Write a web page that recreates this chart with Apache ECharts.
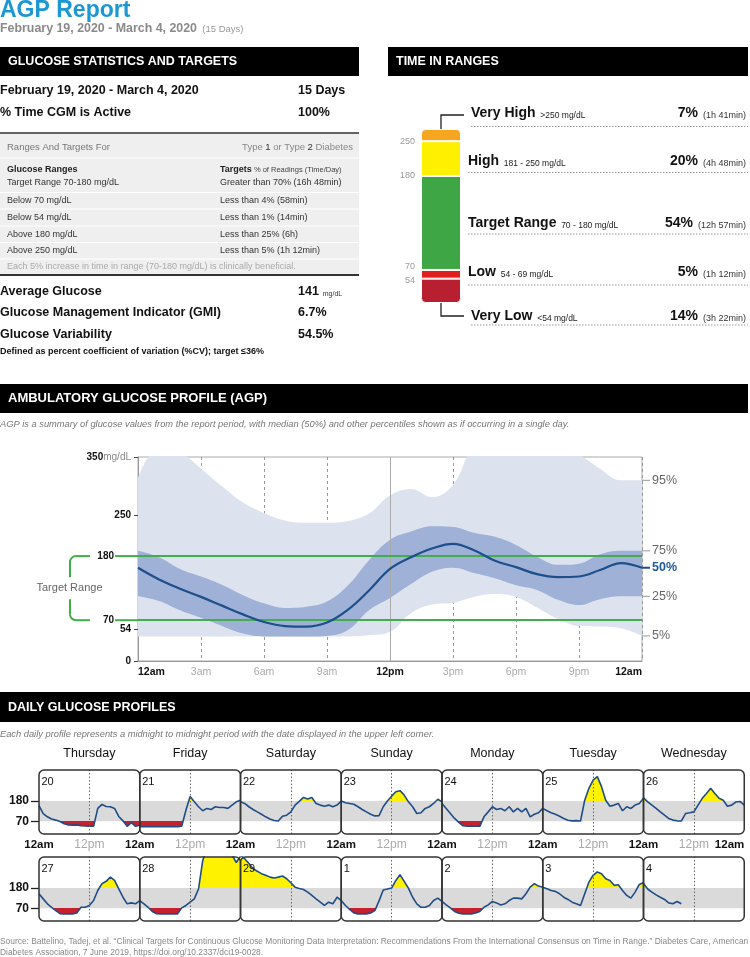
<!DOCTYPE html>
<html><head><meta charset="utf-8">
<script src="https://cdn.jsdelivr.net/npm/echarts@6/dist/echarts.min.js"></script>
<style>html,body{margin:0;padding:0;background:#fff}#c{width:750px;height:957px}</style>
</head><body><div id="c"></div>
<script>
const FONT = '"Liberation Sans", Arial, Helvetica, sans-serif';

// ---------- AGP percentiles (mg/dL) at each hour ----------
const hours = [0,1,2,3,4,5,6,7,8,9,10,11,12,13,14,15,16,17,18,19,20,21,22,23,24];
const p5  = [42,42,42,42,42,42,42,42,42,42,42,44,50,82,97,100,110,115,110,92,72,60,59,56,43];
const p25 = [111,103,87,74,60,47,42,42,42,43,53,87,108,132,153,160,151,142,130,122,105,96,106,111,111];
const p50 = [160,140,124,110,95,80,67,60,59,66,88,121,158,178,193,201,190,172,161,149,144,145,156,168,160];
const p75 = [189,178,158,145,131,113,99,91,93,102,130,173,208,222,231,230,220,213,199,179,165,167,183,189,189];
const p95 = [314,365,358,330,300,272,254,241,237,237,240,253,284,295,281,302,370,385,385,385,378,355,330,310,310];
const agpTickLabels = ['12am','3am','6am','9am','12pm','3pm','6pm','9pm','12am'];
const agpYTicks = [0,54,70,180,250,350];
const pctLabels = ['95%','75%','50%','25%','5%'];

// ---------- Time in ranges ----------
const tirNames  = ['Very Low','Low','Target Range','High','Very High'];
const tirRanges = ['<54 mg/dL','54 - 69 mg/dL','70 - 180 mg/dL','181 - 250 mg/dL','>250 mg/dL'];
const tirPct    = [14,5,54,20,7];
const tirTime   = ['(3h 22min)','(1h 12min)','(12h 57min)','(4h 48min)','(1h 41min)'];
const tirBoundaryLabels = ['54','70','180','250'];
const tirColors = ['#b81f30','#e0201f','#3fa645','#fff000','#f6a71f'];

// ---------- Daily glucose profiles (mg/dL, hourly) ----------
const dayNames = ['Thursday','Friday','Saturday','Sunday','Monday','Tuesday','Wednesday'];
const dayDates = ['20','21','22','23','24','25','26','27','28','29','1','2','3','4'];
const d20 = [155,112,94,82,76,68,56,50,48,50,45,44,43,42,140,162,150,149,140,96,72,42,62,42,48];
const d21 = [40,40,40,40,40,40,40,40,40,40,42,130,205,176,149,127,140,134,149,145,145,140,158,176,185];
const d22 = [176,167,149,134,121,108,94,82,74,71,97,103,121,158,178,200,192,200,167,158,152,158,149,158,180];
const d23 = [180,171,167,163,149,134,121,108,99,100,149,180,207,231,237,213,176,149,112,116,140,149,167,190,176];
const d24 = [167,140,112,85,64,45,42,42,42,42,94,121,149,134,140,127,149,121,140,121,140,94,108,116,140];
const d25 = [140,127,116,108,97,85,75,72,73,71,185,250,295,314,259,185,152,158,167,127,149,140,158,167,195];
const d26 = [198,176,158,140,121,103,85,76,72,71,112,116,121,158,195,222,250,222,195,185,152,158,175,178,158];
const d27 = [149,121,94,75,57,40,39,39,39,44,75,75,85,112,167,204,217,240,222,176,130,94,99,94,112];
const d28 = [112,94,75,52,40,39,39,39,39,39,72,85,103,121,175,330,400,400,400,400,400,400,360,320,355];
const d29 = [360,341,314,286,272,259,250,240,235,240,246,231,209,185,178,172,158,140,121,103,85,103,94,130,112];
const d01 = [112,85,63,44,39,39,39,44,57,110,170,175,180,222,253,217,180,130,94,75,75,85,112,125,107];
const d02 = [107,88,72,52,42,39,39,39,44,52,75,88,107,99,88,94,112,125,125,121,149,185,204,191,185];
const d03 = [185,176,167,162,149,130,118,103,94,85,149,213,250,268,259,231,222,195,198,167,140,125,158,200,210];
const d04 = [205,175,158,143,130,118,99,94,107,94,null,null,null,null,null,null,null,null,null,null,null,null,null,null,null];
const dayValues = [d20,d21,d22,d23,d24,d25,d26,d27,d28,d29,d01,d02,d03,d04];

// ---------- helpers ----------
const pairs = arr => arr.map((v,i) => [hours[i], v]);
const diff = (a,b) => a.map((v,i) => v - b[i]);
const F = (size, weight, style) => `${style||'normal'} ${weight||'normal'} ${size}px ${FONT}`;
function T(x, y, text, font, fill, align) {
  return {type:'text', x, y, silent:true, z:50,
    style:{text, font, fill: fill||'#111', align: align||'left', verticalAlign:'middle'}};
}
function R(x, y, text, rich, align) {
  return {type:'text', x, y, silent:true, z:50,
    style:{text, rich, align: align||'left', verticalAlign:'middle', fontFamily:FONT}};
}
const rs = (size, weight, fill, va) => ({fontSize:size, fontWeight:weight||'normal', fontFamily:FONT, fill:fill||'#111', verticalAlign: va||'middle'});
const L = (x1,y1,x2,y2,stroke,w,dash) => ({type:'line', silent:true, z:40, shape:{x1,y1,x2,y2}, style:{stroke, lineWidth:w||1, lineDash:dash||null}});

const chart = echarts.init(document.getElementById('c'), null, {width:750, height:957});

const grids = [], xAxes = [], yAxes = [], series = [];
const yellowIdx = [], redIdx = [];

// ---------- AGP grid ----------
grids.push({left:138, top:457, width:504, height:204, show:true, borderColor:'#aaa', borderWidth:1});
xAxes.push({gridIndex:0, type:'category', boundaryGap:false, data:hours.map(String),
  axisLine:{show:true, lineStyle:{color:'#999'}}, axisTick:{show:false},
  splitLine:{show:true, interval:2, lineStyle:{color:'#999', type:[3,3], width:1}},
  axisLabel:{margin:6, interval:2, alignMinLabel:'left', alignMaxLabel:'right',
    formatter: v => { const h = Number(v); const s = agpTickLabels[Math.round(h/3)]; return (h % 12 === 0) ? '{b|'+s+'}' : '{g|'+s+'}'; },
    rich:{b:{fontFamily:FONT, fontSize:10.5, fontWeight:'bold', color:'#111'}, g:{fontFamily:FONT, fontSize:10.5, color:'#aaa'}}}
});
yAxes.push({gridIndex:0, type:'value', min:0, max:350,
  axisLine:{show:true, lineStyle:{color:'#999'}}, splitLine:{show:false},
  axisTick:{show:true, length:4, lineStyle:{color:'#444'}, customValues:[0,54,250,350]},
  axisLabel:{customValues:agpYTicks, margin:7,
    formatter: v => v === 350 ? '{b|350}{u|mg/dL}' : (v === 70 || v === 180) ? '{gl|'+v+'}' : '{b|'+v+'}',
    rich:{b:{fontFamily:FONT, fontSize:10, fontWeight:'bold', color:'#111'},
          u:{fontFamily:FONT, fontSize:10, color:'#888'},
          gl:{fontFamily:FONT, fontSize:10, fontWeight:'bold', color:'#111', padding:[0,17,0,0]}}}
});
const agpBase = {type:'line', xAxisIndex:0, yAxisIndex:0, smooth:0.4, symbol:'none', silent:true};
series.push(Object.assign({}, agpBase, {data:p5, stack:'outer', lineStyle:{opacity:0}, z:1,
  markLine:{silent:true, symbol:'none', label:{show:false}, lineStyle:{color:'#aaa', type:'solid', width:1}, data:[{xAxis:12}]}}));
series.push(Object.assign({}, agpBase, {data:diff(p95,p5), stack:'outer', lineStyle:{opacity:0}, areaStyle:{color:'#dde3ee', opacity:1}, z:2}));
series.push(Object.assign({}, agpBase, {data:p25, stack:'inner', lineStyle:{opacity:0}, z:2}));
series.push(Object.assign({}, agpBase, {data:diff(p75,p25), stack:'inner', lineStyle:{opacity:0}, areaStyle:{color:'#9fb1d6', opacity:1}, z:3}));
series.push(Object.assign({}, agpBase, {data:p50, lineStyle:{opacity:0}, z:4,
  markLine:{silent:true, symbol:'none', label:{show:false}, lineStyle:{color:'#43ad4d', type:'solid', width:2}, data:[{yAxis:70},{yAxis:180}]}}));
series.push(Object.assign({}, agpBase, {data:p50, lineStyle:{color:'#1c4f8c', width:2.2}, z:5}));

// ---------- TIR grid ----------
grids.push({left:421, top:129, width:40, height:174});
xAxes.push({gridIndex:1, type:'category', data:['TIR'], show:false});
const tirCum = []; tirPct.reduce((s,v,i) => { if (i < tirPct.length-1) tirCum.push(s+v); return s+v; }, 0);
yAxes.push({gridIndex:1, type:'value', min:0, max:100, show:false});
tirPct.forEach((v,i) => {
  series.push({type:'bar', xAxisIndex:1, yAxisIndex:1, stack:'tir', barWidth:'100%', silent:true, data:[v],
    itemStyle:{color:tirColors[i], borderColor:'#fff', borderWidth:1,
      borderRadius: i === 0 ? [0,0,4,4] : (i === tirPct.length-1 ? [4,4,0,0] : 0)}});
});

// ---------- Daily grids ----------
const pLeft = 39, pW = 100.75, rowTop = [770, 857], pH = 64;
const panelRects = [];
dayValues.forEach((vals, k) => {
  const row = Math.floor(k/7), col = k % 7;
  const gi = grids.length;
  const left = pLeft + col*pW, top = rowTop[row];
  panelRects.push([left, top]);
  grids.push({left, top, width:pW, height:pH});
  xAxes.push({gridIndex:gi, type:'value', min:0, max:24, interval:12,
    axisLine:{show:false}, axisTick:{show:false}, splitLine:{show:false},
    axisLabel: row === 0 ? {show:true, margin:5, alignMaxLabel: col === 6 ? 'right' : 'center',
      formatter: v => v === 12 ? '{g|12pm}' : ((v === 24 && col !== 6) ? '' : '{b|12am}'),
      rich:{b:{fontFamily:FONT, fontSize:11.5, fontWeight:'bold', color:'#111'}, g:{fontFamily:FONT, fontSize:12, color:'#aaa'}}} : {show:false}
  });
  yAxes.push({gridIndex:gi, type:'value', min:0, max:350, splitLine:{show:false}, axisLine:{show:false},
    axisTick: col === 0 ? {show:true, customValues:[70,180], length:8, lineStyle:{color:'#222', width:1.3}} : {show:false},
    axisLabel: col === 0 ? {show:true, customValues:[70,180], fontFamily:FONT, fontWeight:'bold', fontSize:12, color:'#111', margin:10} : {show:false}
  });
  const dat = pairs(vals);
  const base = {type:'line', xAxisIndex:gi, yAxisIndex:gi, data:dat, symbol:'none', showSymbol:false, silent:true, connectNulls:false};
  series.push(Object.assign({}, base, {lineStyle:{opacity:0, width:0}, z:1,
    markArea:{silent:true, itemStyle:{color:'#dadada'}, data:[[{yAxis:70},{yAxis:180}]]}}));
  yellowIdx.push(series.length);
  series.push(Object.assign({}, base, {lineStyle:{opacity:0, width:0}, areaStyle:{origin:'start', opacity:1}, z:2}));
  redIdx.push(series.length);
  series.push(Object.assign({}, base, {lineStyle:{opacity:0, width:0}, areaStyle:{origin:'end', opacity:1}, z:2,
    markLine:{silent:true, symbol:'none', label:{show:false}, lineStyle:{color:'#666', type:[1.5,2], width:1}, data:[{xAxis:12}]}}));
  series.push(Object.assign({}, base, {lineStyle:{color:'#1f4d88', width:1.6}, z:3}));
});

const option = {
  animation:false,
  textStyle:{fontFamily:FONT},
  grid:grids, xAxis:xAxes, yAxis:yAxes, series,
  visualMap:[
    {type:'piecewise', show:false, seriesIndex:yellowIdx, dimension:1,
      pieces:[{lte:180, color:'rgba(255,255,255,0)'},{gt:180, lte:2000, color:'#fff200'}],
      outOfRange:{color:'rgba(255,255,255,0)'}},
    {type:'piecewise', show:false, seriesIndex:redIdx, dimension:1,
      pieces:[{gt:-2000, lt:70, color:'#c61f2e'},{gte:70, color:'rgba(255,255,255,0)'}],
      outOfRange:{color:'rgba(255,255,255,0)'}}
  ]
};
chart.setOption(option);

// ---------- graphics ----------
const G = [];
// header
G.push(T(0, 10.5, 'AGP Report', F(23,'bold'), '#1d97d4'));
G.push(R(0, 28.5, '{a|February 19, 2020 - March 4, 2020}{b|  (15 Days)}', {a:rs(12.4,'bold','#8a8a8a'), b:rs(9.5,'normal','#999','bottom')}));
// section bars
G.push({type:'rect', shape:{x:0, y:47, width:359, height:29}, style:{fill:'#000'}, silent:true});
G.push(T(8, 62, 'GLUCOSE STATISTICS AND TARGETS', F(12.5,'bold'), '#fff'));
G.push({type:'rect', shape:{x:388, y:47, width:360, height:29}, style:{fill:'#000'}, silent:true});
G.push(T(396, 62, 'TIME IN RANGES', F(12.5,'bold'), '#fff'));
// stats
G.push(T(0, 91, 'February 19, 2020 - March 4, 2020', F(12.5,'bold')));
G.push(T(298, 91, '15 Days', F(12.5,'bold')));
G.push(T(0, 113, '% Time CGM is Active', F(12.5,'bold')));
G.push(T(298, 113, '100%', F(12.5,'bold')));
G.push({type:'rect', shape:{x:0, y:133, width:359, height:142}, style:{fill:'#efefef'}, silent:true});
G.push(L(0,133,359,133,'#333',1.5));
G.push(L(0,275,359,275,'#333',2));
[158, 192.5, 209, 226, 242.5, 259].forEach(y => G.push(L(0,y,359,y,'#fff',1)));
G.push(T(7, 147, 'Ranges And Targets For', F(9.5), '#777'));
G.push(R(353, 147, '{a|Type }{b|1}{a| or Type }{b|2}{a| Diabetes}', {a:rs(9.5,'normal','#888'), b:rs(9.5,'normal','#333')}, 'right'));
G.push(T(7, 170, 'Glucose Ranges', F(9,'bold'), '#222'));
G.push(R(220, 170, '{a|Targets}{b| % of Readings (Time/Day)}', {a:rs(9,'bold','#222'), b:rs(7.5,'normal','#444')}));
const statRows = [['Target Range 70-180 mg/dL','Greater than 70% (16h 48min)'],['Below 70 mg/dL','Less than 4% (58min)'],
  ['Below 54 mg/dL','Less than 1% (14min)'],['Above 180 mg/dL','Less than 25% (6h)'],['Above 250 mg/dL','Less than 5% (1h 12min)']];
const statY = [182.5, 201, 217.7, 234.3, 250.7];
statRows.forEach((r,i) => { G.push(T(7, statY[i], r[0], F(9), '#333')); G.push(T(220, statY[i], r[1], F(9), '#333')); });
G.push(T(7, 267, 'Each 5% increase in time in range (70-180 mg/dL) is clinically beneficial.', F(9), '#aaa'));
G.push(T(0, 291.5, 'Average Glucose', F(12.5,'bold')));
G.push(R(298, 291.5, '{a|141}{b|  mg/dL}', {a:rs(12.5,'bold'), b:rs(7,'normal','#333','bottom')}));
G.push(T(0, 313, 'Glucose Management Indicator (GMI)', F(12.5,'bold')));
G.push(T(298, 313, '6.7%', F(12.5,'bold')));
G.push(T(0, 335, 'Glucose Variability', F(12.5,'bold')));
G.push(T(298, 335, '54.5%', F(12.5,'bold')));
G.push(T(0, 352, 'Defined as percent coefficient of variation (%CV); target \u226436%', F(9,'bold')));

// time in ranges labels
const tirRowY = [316, 272.5, 223, 161.5, 113];
const tirRowX = [471, 468, 468, 468, 471];
const tirDotY = [325, 285, 234, 172.5, 126.5];
tirNames.forEach((n,i) => {
  G.push(R(tirRowX[i], tirRowY[i], '{n|'+n+'}{r|  '+tirRanges[i]+'}', {n:rs(14,'bold','#111'), r:rs(8.5,'normal','#222','bottom')}));
  G.push(R(746, tirRowY[i], '{p|'+tirPct[i]+'%}{t|  '+tirTime[i]+'}', {p:rs(14,'bold','#111'), t:rs(9,'normal','#333','bottom')}, 'right'));
  G.push(L(tirRowX[i], tirDotY[i], 748, tirDotY[i], '#999', 1, [1.5,1.5]));
});
G.push({type:'polyline', shape:{points:[[441,129],[441,115],[464,115]]}, style:{stroke:'#222', lineWidth:1.3, fill:null}, silent:true});
G.push({type:'polyline', shape:{points:[[441,303],[441,316],[464,316]]}, style:{stroke:'#222', lineWidth:1.3, fill:null}, silent:true});
const tirNudge = [2, -3, 0, 0];
tirCum.forEach((c,i) => {
  const p = chart.convertToPixel({gridIndex:1}, ['TIR', c]);
  G.push(T(415, p[1] + tirNudge[i], tirBoundaryLabels[i], F(9), '#999', 'right'));
});

// AGP section
G.push({type:'rect', shape:{x:0, y:384, width:748, height:29}, style:{fill:'#000'}, silent:true});
G.push(T(8, 398.5, 'AMBULATORY GLUCOSE PROFILE (AGP)', F(13,'bold'), '#fff'));
G.push(T(0, 424, 'AGP is a summary of glucose values from the report period, with median (50%) and other percentiles shown as if occurring in a single day.', F(9.3,'normal','italic'), '#777'));
const px = (h, v) => chart.convertToPixel({gridIndex:0}, [h, v]);
const y180 = px(0,180)[1], y70 = px(0,70)[1], x0 = px(0,0)[0];
[y70, y180].forEach(y => G.push(L(115, y, x0, y, '#43ad4d', 2)));
const ym = (y180 + y70) / 2;
G.push(L(76, y180, 90, y180, '#43ad4d', 2));
G.push(L(70, y180+6, 70, ym-11, '#43ad4d', 2));
G.push(L(70, ym+11, 70, y70-6, '#43ad4d', 2));
G.push(L(76, y70, 90, y70, '#43ad4d', 2));
G.push({type:'arc', silent:true, z:40, shape:{cx:76, cy:y180+6, r:6, startAngle:Math.PI, endAngle:Math.PI*1.5}, style:{stroke:'#43ad4d', lineWidth:2, fill:null}});
G.push({type:'arc', silent:true, z:40, shape:{cx:76, cy:y70-6, r:6, startAngle:Math.PI*0.5, endAngle:Math.PI}, style:{stroke:'#43ad4d', lineWidth:2, fill:null}});
G.push(T(69.5, ym, 'Target Range', F(11), '#666', 'center'));
[p95,p75,p50,p25,p5].forEach((arr,i) => {
  const p = px(24, arr[arr.length-1]);
  G.push(L(p[0], p[1], p[0]+8, p[1], i===2 ? '#1c4f8c' : '#999', i===2 ? 2 : 1));
  G.push(T(p[0]+10, p[1], pctLabels[i], F(12.5, i===2 ? 'bold' : 'normal'), i===2 ? '#1f5a9a' : '#666'));
});

// Daily section
G.push({type:'rect', shape:{x:0, y:692, width:750, height:30}, style:{fill:'#000'}, silent:true});
G.push(T(8, 707.5, 'DAILY GLUCOSE PROFILES', F(12.5,'bold'), '#fff'));
G.push(T(0, 734, 'Each daily profile represents a midnight to midnight period with the date displayed in the upper left corner.', F(9.3,'normal','italic'), '#777'));
dayNames.forEach((n,i) => G.push(T(pLeft + i*pW + pW/2, 754, n, F(12.5), '#111', 'center')));
panelRects.forEach((r,k) => {
  G.push({type:'rect', shape:{x:r[0], y:r[1], width:pW, height:pH, r:5}, style:{fill:null, stroke:'#333', lineWidth:1.5}, z:60, silent:true});
  G.push(T(r[0]+2.5, r[1]+12, dayDates[k], F(11), '#111'));
});
G.push(T(0, 941.5, 'Source: Battelino, Tadej, et al. \u201cClinical Targets for Continuous Glucose Monitoring Data Interpretation: Recommendations From the International Consensus on Time in Range.\u201d Diabetes Care, American', F(8.4), '#888'));
G.push(T(0, 952.5, 'Diabetes Association, 7 June 2019, https://doi.org/10.2337/dci19-0028.', F(8.4), '#888'));

chart.setOption({graphic:{elements:G}});
</script></body></html>
